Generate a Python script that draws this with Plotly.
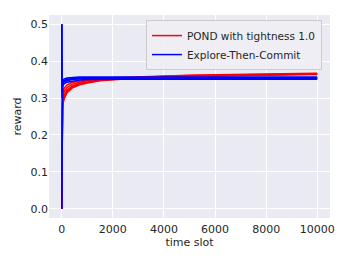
import plotly.graph_objects as go

# time slots (sampled)
time_slots = [0, 10, 30, 60, 100, 200, 400, 700, 1000, 1500, 2000, 3000, 4000, 5000, 6000, 7000, 8000, 9000, 10000]

# POND with tightness 1.0 (several runs)
pond_runs = [
    [0.0, 0.245, 0.272, 0.288, 0.299, 0.314, 0.327, 0.336, 0.341, 0.347, 0.350, 0.354, 0.357, 0.359, 0.360, 0.361, 0.362, 0.363, 0.364],
    [0.0, 0.262, 0.285, 0.299, 0.309, 0.321, 0.332, 0.340, 0.344, 0.349, 0.352, 0.355, 0.358, 0.360, 0.361, 0.362, 0.363, 0.364, 0.365],
    [0.0, 0.278, 0.298, 0.310, 0.318, 0.328, 0.337, 0.343, 0.347, 0.351, 0.353, 0.356, 0.359, 0.361, 0.362, 0.363, 0.364, 0.365, 0.366],
    [0.0, 0.292, 0.310, 0.320, 0.327, 0.335, 0.342, 0.346, 0.349, 0.353, 0.355, 0.358, 0.360, 0.362, 0.363, 0.364, 0.365, 0.366, 0.367],
    [0.0, 0.255, 0.280, 0.294, 0.304, 0.318, 0.330, 0.338, 0.343, 0.348, 0.351, 0.355, 0.358, 0.360, 0.361, 0.362, 0.363, 0.364, 0.365],
]

# Explore-Then-Commit (several runs)
etc_runs = [
    [0.5, 0.300, 0.330, 0.336, 0.339, 0.343, 0.346, 0.349, 0.350, 0.351, 0.351, 0.351, 0.351, 0.351, 0.351, 0.351, 0.351, 0.351, 0.351],
    [0.0, 0.310, 0.336, 0.341, 0.344, 0.347, 0.350, 0.352, 0.353, 0.353, 0.353, 0.353, 0.353, 0.353, 0.353, 0.353, 0.353, 0.353, 0.353],
    [0.5, 0.320, 0.341, 0.345, 0.348, 0.351, 0.353, 0.354, 0.355, 0.355, 0.355, 0.355, 0.355, 0.355, 0.355, 0.355, 0.355, 0.355, 0.355],
    [0.0, 0.325, 0.345, 0.349, 0.352, 0.354, 0.356, 0.357, 0.357, 0.357, 0.357, 0.357, 0.357, 0.357, 0.357, 0.357, 0.357, 0.357, 0.357],
    [0.5, 0.315, 0.339, 0.343, 0.346, 0.349, 0.352, 0.353, 0.354, 0.354, 0.354, 0.354, 0.354, 0.354, 0.354, 0.354, 0.354, 0.354, 0.354],
]

x_ticks = [0, 2000, 4000, 6000, 8000, 10000]
y_ticks = [0.0, 0.1, 0.2, 0.3, 0.4, 0.5]

fig = go.Figure()
for i, run in enumerate(pond_runs):
    fig.add_trace(go.Scatter(x=time_slots, y=run, mode="lines",
                             line=dict(color="#ff0000", width=1.5),
                             name="POND with tightness 1.0",
                             legendgroup="pond", showlegend=(i == 0)))
for i, run in enumerate(etc_runs):
    fig.add_trace(go.Scatter(x=time_slots, y=run, mode="lines",
                             line=dict(color="#0000ff", width=1.5),
                             name="Explore-Then-Commit",
                             legendgroup="etc", showlegend=(i == 0)))

font_color = "#262626"
fig.update_layout(
    width=346, height=260,
    margin=dict(l=49, r=16, t=15, b=42),
    paper_bgcolor="white",
    plot_bgcolor="#EAEAF2",
    font=dict(family="DejaVu Sans", size=11, color=font_color),
    legend=dict(x=0.345, y=0.975, xanchor="left", yanchor="top",
                bgcolor="rgba(238,238,244,0.9)", bordercolor="#cccccc", borderwidth=1,
                font=dict(size=10.5), itemwidth=30, tracegroupgap=0),
    xaxis=dict(range=[-500, 10500], tickvals=x_ticks, ticktext=[str(v) for v in x_ticks],
               showgrid=True, gridcolor="white", gridwidth=1, zeroline=False,
               showline=False, ticks="", ticklabelstandoff=3,
               title=dict(text="time slot", standoff=2, font=dict(size=11))),
    yaxis=dict(range=[-0.025, 0.525], tickvals=y_ticks, ticktext=["%.1f" % v for v in y_ticks],
               showgrid=True, gridcolor="white", gridwidth=1, zeroline=False,
               showline=False, ticks="", title=dict(text="reward", standoff=6, font=dict(size=11))),
)

fig.write_html("out.html", config={"displayModeBar": False},
               post_script="document.body.style.margin='0';")
